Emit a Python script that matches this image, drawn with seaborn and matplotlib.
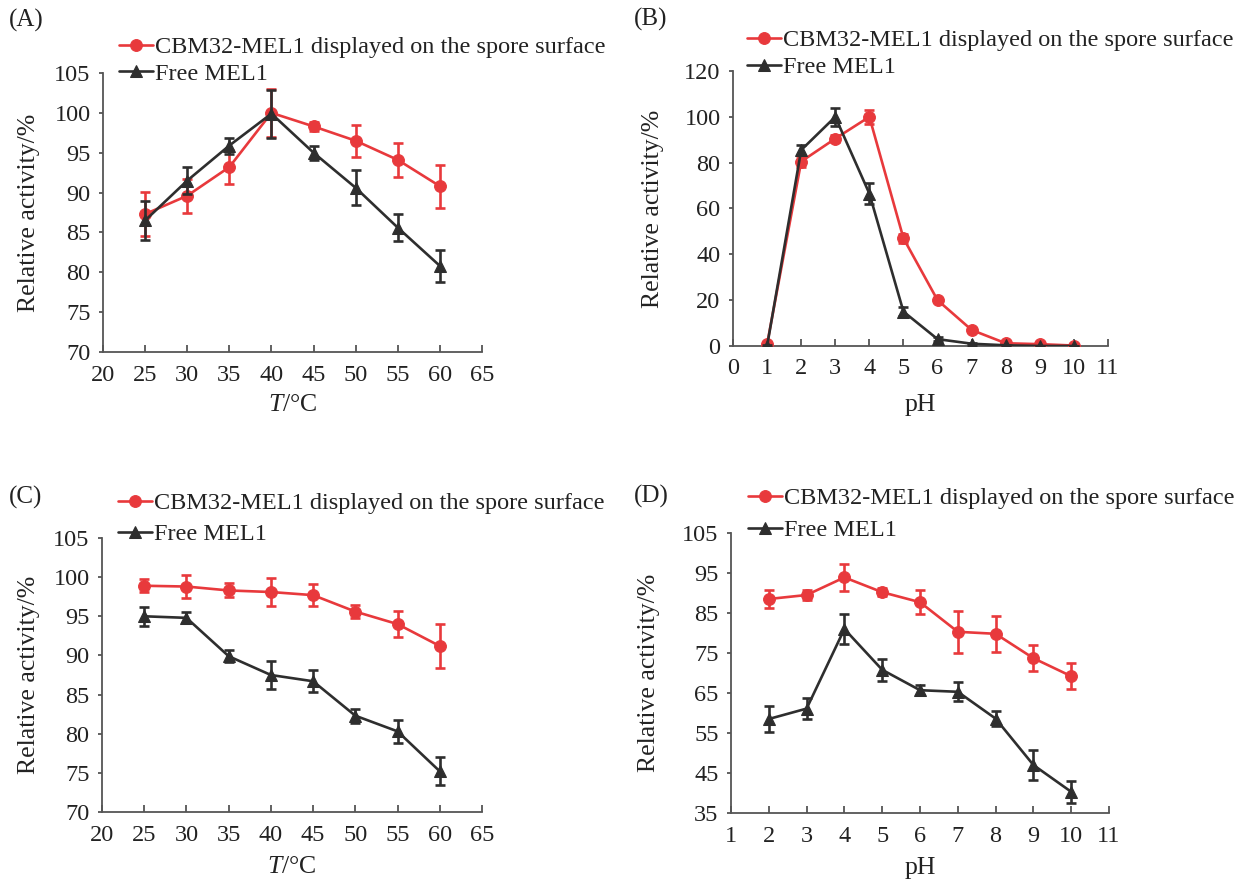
import numpy as np
import pandas as pd
import matplotlib
matplotlib.use("Agg")
import matplotlib.pyplot as plt
import matplotlib.transforms as mtransforms
import seaborn as sns

# ---------------- data ----------------
temp = [25, 30, 35, 40, 45, 50, 55, 60]
ph_b = [1, 2, 3, 4, 5, 6, 7, 8, 9, 10]
ph_d = [2, 3, 4, 5, 6, 7, 8, 9, 10]

lab_spore = "CBM32-MEL1 displayed on the spore surface"
lab_free = "Free MEL1"

# (A) optimum temperature
a_spore = [87.3, 89.6, 93.2, 100.0, 98.3, 96.5, 94.1, 90.8]
a_spore_err = [2.8, 2.1, 2.1, 3.0, 0.6, 2.0, 2.1, 2.7]
a_free = [86.5, 91.5, 95.9, 99.9, 95.0, 90.6, 85.6, 80.8]
a_free_err = [2.5, 1.7, 1.0, 3.0, 0.9, 2.2, 1.7, 2.0]

# (B) optimum pH
b_spore = [0.8, 80.5, 90.5, 100.0, 47.0, 20.0, 7.0, 1.2, 0.8, 0.2]
b_spore_err = [0.5, 2.5, 1.5, 3.0, 2.0, 1.0, 0.8, 0.5, 0.3, 0.2]
b_free = [0.0, 85.5, 100.0, 66.5, 15.0, 3.0, 1.0, 0.3, 0.0, 0.0]
b_free_err = [0.3, 2.0, 4.0, 4.5, 2.0, 1.0, 0.5, 0.3, 0.2, 0.2]

# (C) thermal stability
c_spore = [98.9, 98.8, 98.3, 98.1, 97.7, 95.6, 94.0, 91.2]
c_spore_err = [0.8, 1.5, 0.9, 1.8, 1.4, 0.8, 1.7, 2.8]
c_free = [95.0, 94.8, 89.9, 87.5, 86.7, 82.3, 80.3, 75.2]
c_free_err = [1.2, 0.7, 0.8, 1.8, 1.4, 0.9, 1.5, 1.8]

# (D) pH stability
d_spore = [88.5, 89.5, 93.9, 90.2, 87.7, 80.3, 79.8, 73.7, 69.2]
d_spore_err = [2.3, 1.2, 3.3, 1.0, 3.0, 5.2, 4.5, 3.2, 3.3]
d_free = [58.5, 61.1, 81.0, 70.8, 65.7, 65.3, 58.6, 47.0, 40.3]
d_free_err = [3.3, 2.7, 3.8, 2.7, 1.3, 2.4, 1.8, 3.7, 2.8]

# ---------------- style ----------------
sns.set_style("ticks")
plt.rcParams['font.family'] = ['Liberation Serif', 'DejaVu Serif']
plt.rcParams['mathtext.fontset'] = 'custom'
plt.rcParams['mathtext.rm'] = 'Liberation Serif'
plt.rcParams['mathtext.it'] = 'Liberation Serif:italic'

RED = '#E8393C'
DARK = '#2E2E2E'
SPINE = '#555555'
W, H = 1241, 880

fig = plt.figure(figsize=(12.41, 8.8), dpi=100)

panels = [
    dict(name="(A)", rect=(103, 73, 482, 352), x=temp, s=a_spore, se=a_spore_err, f=a_free, fe=a_free_err,
         xlim=(20, 65), xticks=np.arange(20, 66, 5), ylim=(70, 105), yticks=np.arange(70, 106, 5),
         xlabel=r"$\mathit{T}$/°C", leg=(119, 36), lsp=0.2, lab=(9, 20), ylx=29, xly=405),
    dict(name="(B)", rect=(733, 71, 1108, 346), x=ph_b, s=b_spore, se=b_spore_err, f=b_free, fe=b_free_err,
         xlim=(0, 11), xticks=np.arange(0, 12, 1), ylim=(0, 120), yticks=np.arange(0, 121, 20),
         xlabel="pH", leg=(747, 29), lsp=0.22, lab=(634, 19), ylx=653, xly=405),
    dict(name="(C)", rect=(102, 538, 482, 812), x=temp, s=c_spore, se=c_spore_err, f=c_free, fe=c_free_err,
         xlim=(20, 65), xticks=np.arange(20, 66, 5), ylim=(70, 105), yticks=np.arange(70, 106, 5),
         xlabel=r"$\mathit{T}$/°C", leg=(118, 492), lsp=0.38, lab=(9, 497), ylx=29, xly=867),
    dict(name="(D)", rect=(731, 533, 1109, 813), x=ph_d, s=d_spore, se=d_spore_err, f=d_free, fe=d_free_err,
         xlim=(1, 11), xticks=np.arange(1, 12, 1), ylim=(35, 105), yticks=np.arange(35, 106, 10),
         xlabel="pH", leg=(748, 487), lsp=0.42, lab=(634, 496), ylx=649, xly=868),
]

for p in panels:
    x0, y0, x1, y1 = p['rect']
    ax = fig.add_axes([x0 / W, 1 - y1 / H, (x1 - x0) / W, (y1 - y0) / H])
    df_s = pd.DataFrame({'x': p['x'], 'y': p['s']})
    df_f = pd.DataFrame({'x': p['x'], 'y': p['f']})
    ax.errorbar(p['x'], p['s'], yerr=p['se'], fmt='none', ecolor=RED, elinewidth=1.9,
                capsize=3.5, capthick=1.9, zorder=2)
    sns.lineplot(data=df_s, x='x', y='y', ax=ax, color=RED, marker='o', markersize=8.5,
                 markeredgecolor=RED, linewidth=1.9, label=lab_spore, zorder=3)
    ax.errorbar(p['x'], p['f'], yerr=p['fe'], fmt='none', ecolor=DARK, elinewidth=1.9,
                capsize=3.5, capthick=1.9, zorder=4)
    sns.lineplot(data=df_f, x='x', y='y', ax=ax, color=DARK, marker='^', markersize=8.5,
                 markeredgecolor=DARK, linewidth=1.9, label=lab_free, zorder=5)

    ax.set_xlim(*p['xlim'])
    ax.set_ylim(*p['ylim'])
    ax.set_xticks(p['xticks'])
    ax.set_yticks(p['yticks'])
    sns.despine(ax=ax)
    for sp in ['left', 'bottom']:
        ax.spines[sp].set_color(SPINE)
        ax.spines[sp].set_linewidth(1.3)
    ax.tick_params(axis='x', direction='in', length=5, width=1.3, color=SPINE, labelsize=17.5, pad=9)
    ax.tick_params(axis='y', direction='out', length=3, width=1.3, color=SPINE, labelsize=17.5, pad=6)
    for t in ax.get_xticklabels() + ax.get_yticklabels():
        t.set_color('#222222')

    ax.set_xlabel(p['xlabel'], fontsize=18.5, color='#222222')
    ax.set_ylabel("Relative activity/%", fontsize=18.5, color='#222222')
    tr = mtransforms.blended_transform_factory(fig.transFigure, ax.transAxes)
    ax.yaxis.set_label_coords(p['ylx'] / W, 0.5, transform=tr)
    trx = mtransforms.blended_transform_factory(ax.transAxes, fig.transFigure)
    ax.xaxis.set_label_coords(0.5, 1 - p['xly'] / H, transform=trx)
    ax.xaxis.label.set_va('center')
    ax.yaxis.label.set_va('center')

    lx, ly = p['leg']
    leg = ax.legend(loc='upper left', bbox_to_anchor=(lx / W, 1 - ly / H), bbox_transform=fig.transFigure,
                    frameon=False, fontsize=17.5, handlelength=1.4, handletextpad=0.1,
                    labelspacing=p['lsp'], borderpad=0, borderaxespad=0)
    for t in leg.get_texts():
        t.set_color('#222222')

    lxp, lyp = p['lab']
    fig.text(lxp / W, 1 - lyp / H, p['name'], fontsize=18, ha='left', va='center', color='#222222')

fig.savefig("out.png", dpi=100)
